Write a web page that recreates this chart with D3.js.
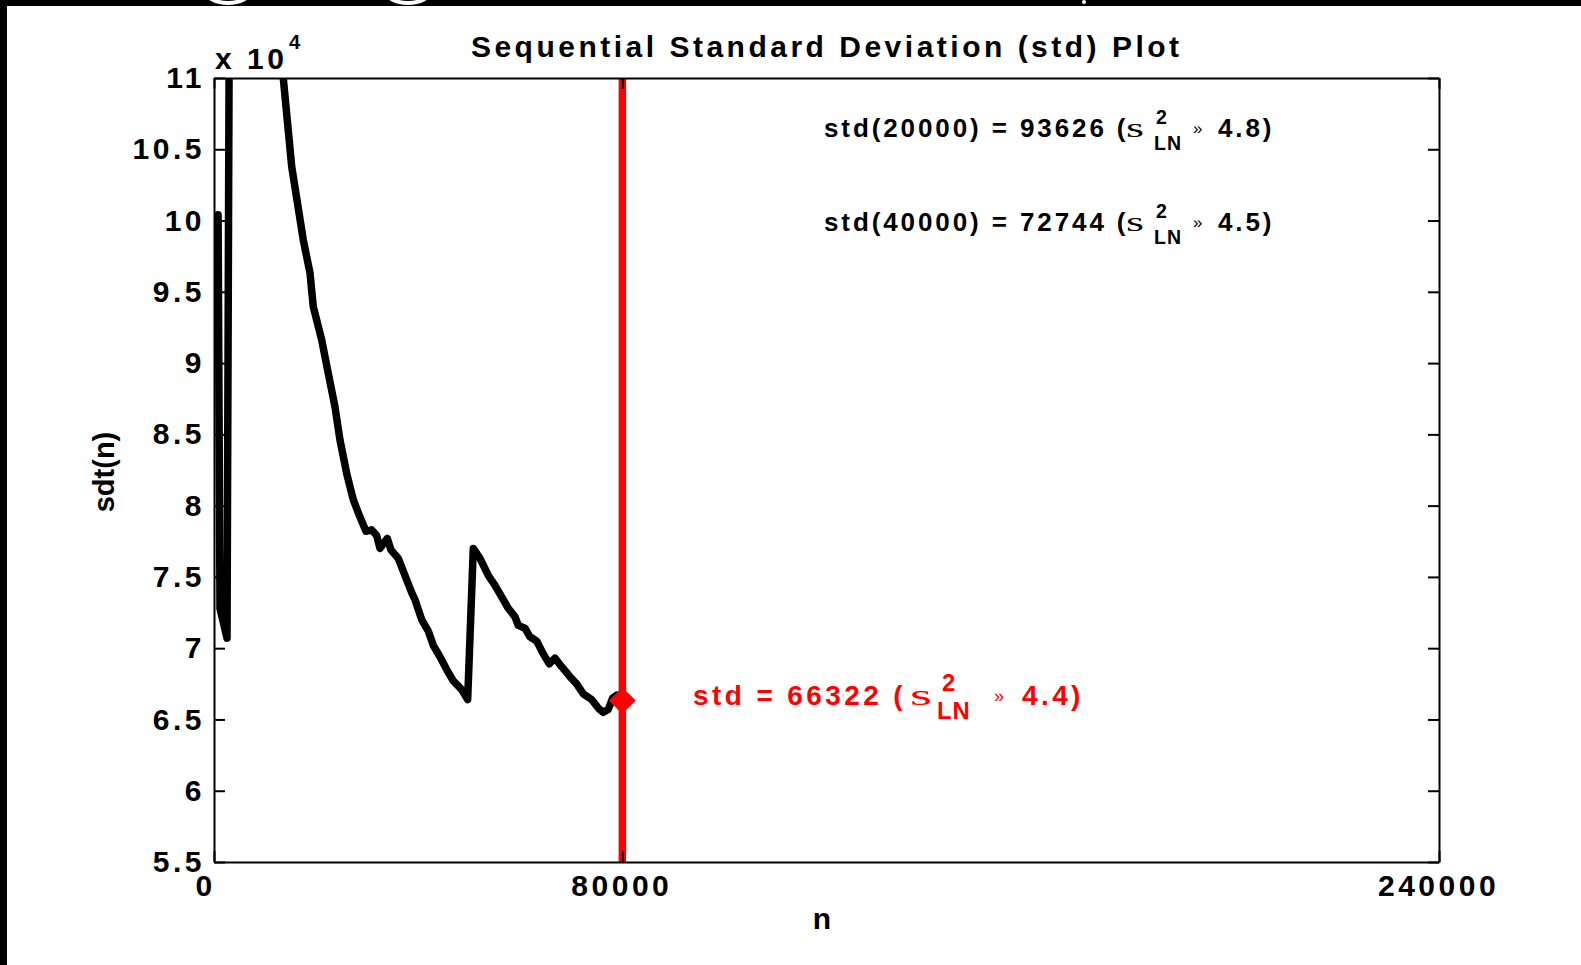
<!DOCTYPE html>
<html>
<head>
<meta charset="utf-8">
<script src="https://cdn.jsdelivr.net/npm/d3@7"></script>
<style>
  html, body { margin: 0; padding: 0; background: #fff; }
  svg { display: block; font-family: "Liberation Sans", Arial, Helvetica, sans-serif; font-weight: bold; }
</style>
</head>
<body>
<svg id="chart" width="1581" height="965"></svg>
<script>
// Running standard deviation of the sample as more observations are added
const sampleSizes = [
  800, 1175, 2550, 3100, 6500, 10500, 13570, 15220, 17490, 18810, 19450,
  21100, 22390, 23700, 24680, 26030, 27300, 28600, 29780, 30890, 31870,
  32520, 33950, 34670, 36100, 37750, 38730, 39380, 40690, 41980, 42960,
  44270, 45590, 46880, 48530, 49700, 50800, 52110, 53740, 55050, 56360,
  57650, 58970, 59610, 60920, 61900, 63220, 64510, 65690, 66800, 68110,
  69740, 71050, 72340, 73990, 75280, 76260, 77240, 78100, 78890, 80000
];
const stdValues = [
  100400, 72800, 70700, 125000, 138000, 126000, 110000, 103800, 98640, 96320, 93960,
  91620, 89280, 86940, 84600, 82200, 80400, 79200, 78200, 78300, 77900,
  77000, 77700, 76900, 76300, 74800, 73900, 73400, 72000, 71200, 70200,
  69400, 68500, 67700, 67100, 66400, 77000, 76300, 75100, 74400, 73600,
  72800, 72200, 71600, 71400, 70800, 70500, 69600, 68900, 69300, 68700,
  68000, 67500, 66800, 66400, 65800, 65500, 65700, 66500, 66700, 66322
];

// Axis ranges and tick marks
const xDomain = [0, 240000];
const yDomain = [55000, 110000];
const xTicks = [0, 80000, 240000];
const yTicks = [55000, 60000, 65000, 70000, 75000, 80000, 85000, 90000, 95000, 100000, 105000, 110000];
const yExponent = 4;

// Current sample size, its std and the lognormal variance estimate
const markerN = 80000;
const markerStd = 66322;
const markerVarLN = 4.4;

// Earlier checkpoints listed in the upper right
const noteNs = [20000, 40000];
const noteStds = [93626, 72744];
const noteVarLN = [4.8, 4.5];

const titleText = "Sequential Standard Deviation (std) Plot";
const xLabel = "n";
const yLabel = "sdt(n)";

const svg = d3.select("#chart");
const W = 1581, H = 965;
const plot = { left: 214, right: 1439, top: 78, bottom: 862 };
const FS = 30;  // size of the bold labels
const LS = 3.5; // letter spacing used by the bold labels

const x = d3.scaleLinear().domain(xDomain).range([plot.left, plot.right]);
const y = d3.scaleLinear().domain(yDomain).range([plot.bottom, plot.top]);

svg.append("rect").attr("width", W).attr("height", H).attr("fill", "#fff");

// dark edges of the page with fragments of lettering along the top
svg.append("rect").attr("x", 0).attr("y", 0).attr("width", W).attr("height", 6).attr("fill", "#000");
svg.append("rect").attr("x", 0).attr("y", 0).attr("width", 7).attr("height", H).attr("fill", "#000");
svg.append("clipPath").attr("id", "band").append("rect").attr("x", 7).attr("y", 0).attr("width", W).attr("height", 6);
const band = svg.append("g").attr("clip-path", "url(#band)");
[228, 408].forEach(cx => {
  band.append("ellipse").attr("cx", cx).attr("cy", -9).attr("rx", 22).attr("ry", 12)
    .attr("fill", "none").attr("stroke", "#fff").attr("stroke-width", 4);
});
band.append("circle").attr("cx", 1084).attr("cy", 2).attr("r", 2).attr("fill", "#fff");

// clip for the data line
svg.append("clipPath").attr("id", "plotClip").append("rect")
  .attr("x", plot.left).attr("y", plot.top)
  .attr("width", plot.right - plot.left).attr("height", plot.bottom - plot.top);

// running std curve
const data = sampleSizes.map((n, i) => ({ n, s: stdValues[i] }));
const line = d3.line().x(d => x(d.n)).y(d => y(d.s));
svg.append("path")
  .datum(data)
  .attr("clip-path", "url(#plotClip)")
  .attr("d", line)
  .attr("fill", "none")
  .attr("stroke", "#000")
  .attr("stroke-width", 7.5)
  .attr("stroke-linejoin", "round")
  .attr("stroke-linecap", "round");

// current sample size marker
svg.append("line")
  .attr("x1", x(markerN)).attr("x2", x(markerN))
  .attr("y1", y(yDomain[0])).attr("y2", y(yDomain[1]))
  .attr("stroke", "#ff0000").attr("stroke-width", 7.5);
svg.append("path")
  .attr("d", d3.symbol(d3.symbolSquare, 360)())
  .attr("transform", `translate(${x(markerN)},${y(markerStd)}) rotate(45)`)
  .attr("fill", "#ff0000");

// axes: labelled bottom/left, tick-only top/right, ticks pointing inward
const fmtY = d => String(d / Math.pow(10, yExponent));
const axisStyle = g => {
  g.select(".domain").attr("stroke", "#000").attr("stroke-width", 2);
  g.selectAll(".tick line").attr("stroke", "#000").attr("stroke-width", 2);
  g.selectAll("text").attr("fill", "#000")
    .style("font-family", "'Liberation Sans', Arial, sans-serif")
    .style("font-weight", "bold").style("font-size", FS + "px")
    .style("letter-spacing", LS + "px");
};

svg.append("g").attr("transform", `translate(0,${plot.bottom})`)
  .call(d3.axisBottom(x).tickValues(xTicks).tickFormat(d3.format("d"))
    .tickSizeInner(-11).tickSizeOuter(0).tickPadding(13))
  .call(axisStyle)
  .call(g => g.selectAll("text").attr("dx", (d, i) => (i === 0 ? -9 : -1)));

svg.append("g").attr("transform", `translate(${plot.left},0)`)
  .call(d3.axisLeft(y).tickValues(yTicks).tickFormat(fmtY)
    .tickSizeInner(-11).tickSizeOuter(0).tickPadding(9))
  .call(axisStyle);

svg.append("g").attr("transform", `translate(0,${plot.top})`)
  .call(d3.axisTop(x).tickValues(xTicks).tickFormat("")
    .tickSizeInner(-11).tickSizeOuter(0))
  .call(axisStyle);

svg.append("g").attr("transform", `translate(${plot.right},0)`)
  .call(d3.axisRight(y).tickValues(yTicks).tickFormat("")
    .tickSizeInner(-11).tickSizeOuter(0))
  .call(axisStyle);

// exponent label
svg.append("text").attr("x", 215).attr("y", 69)
  .style("font-size", FS + "px").style("letter-spacing", LS + "px")
  .text("x 10");
svg.append("text").attr("x", 289).attr("y", 49)
  .style("font-size", "20px").text(String(yExponent));

// title and axis labels
svg.append("text")
  .attr("x", 825 + LS / 2).attr("y", 57)
  .attr("text-anchor", "middle")
  .style("font-size", FS + "px").style("letter-spacing", LS + "px")
  .text(titleText);

svg.append("text")
  .attr("x", 822).attr("y", 929)
  .attr("text-anchor", "middle")
  .style("font-size", FS + "px")
  .text(xLabel);

svg.append("text")
  .attr("transform", "translate(114,472) rotate(-90)")
  .attr("text-anchor", "middle")
  .style("font-size", "29px")
  .text(yLabel);

// "std = value (s^2_LN » v)" annotation
function annotate(opts) {
  const g = svg.append("g").attr("fill", opts.color);
  const f = opts.size;
  const b = opts.y;
  g.append("text").attr("x", opts.x).attr("y", b)
    .style("font-size", f + "px").style("letter-spacing", opts.ls + "px")
    .text(opts.lead);
  g.append("text").attr("x", opts.sx).attr("y", b)
    .attr("textLength", opts.sw).attr("lengthAdjust", "spacingAndGlyphs")
    .style("font-family", "'Liberation Serif', 'Times New Roman', serif")
    .style("font-weight", "normal")
    .style("font-size", opts.sSize + "px")
    .text("s");
  g.append("text").attr("x", opts.supX).attr("y", b - f * 0.5)
    .style("font-size", (f * opts.small) + "px").text("2");
  g.append("text").attr("x", opts.subX).attr("y", b + f * 0.5)
    .style("font-size", (f * opts.small) + "px").style("letter-spacing", "1px").text("LN");
  g.append("text").attr("x", opts.gx).attr("y", b - 3)
    .style("font-size", (f * 0.65) + "px").style("font-weight", "normal").text("\u00bb");
  g.append("text").attr("x", opts.vx).attr("y", b)
    .style("font-size", f + "px").style("letter-spacing", opts.ls + "px")
    .text(opts.tail);
}

noteNs.forEach((n, i) => {
  annotate({
    color: "#000", size: 26, ls: 2.9, small: 0.75,
    x: 824, y: 137 + i * 94,
    lead: `std(${n}) = ${noteStds[i]} (`,
    sx: 1126, sw: 18, sSize: 27, supX: 1156, subX: 1154, gx: 1193, vx: 1218,
    tail: `${noteVarLN[i].toFixed(1)})`
  });
});

annotate({
  color: "#ff0000", size: 28, ls: 3.4, small: 0.85,
  x: 693, y: 705,
  lead: `std = ${markerStd} (`,
  sx: 910, sw: 22, sSize: 30, supX: 942, subX: 937, gx: 994, vx: 1022,
  tail: `${markerVarLN.toFixed(1)})`
});
</script>
</body>
</html>
